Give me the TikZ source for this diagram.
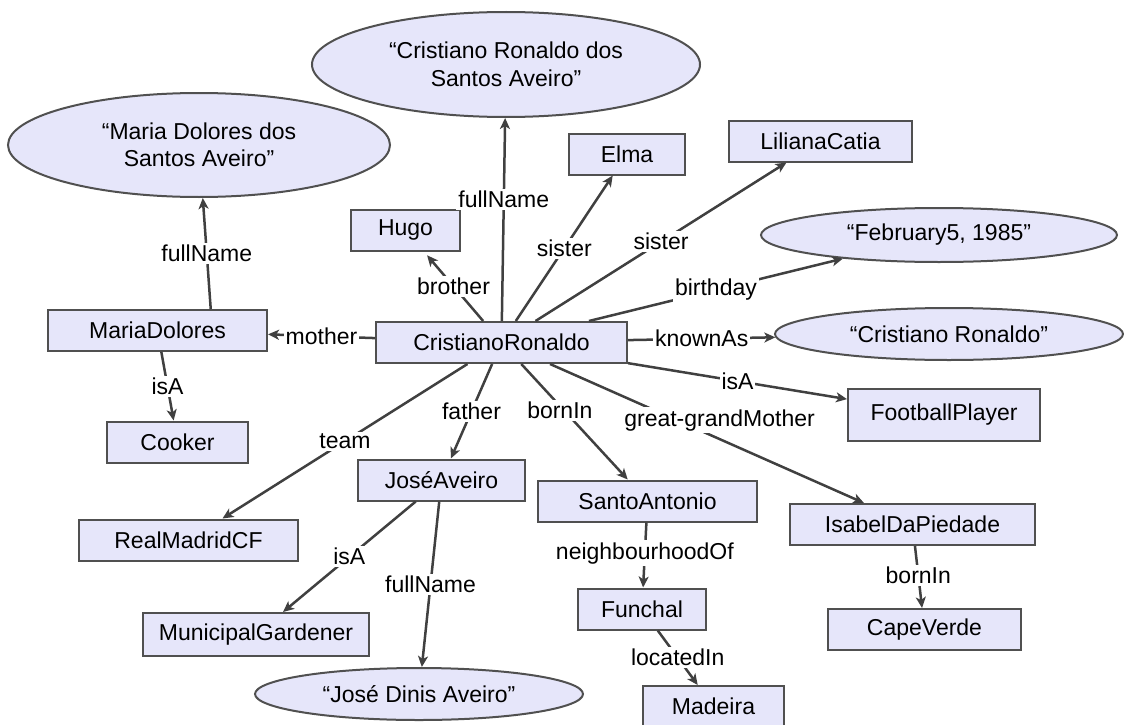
\documentclass[tikz,border=0pt]{standalone}
\usepackage{fontspec}
\setmainfont{Liberation Sans}
\usetikzlibrary{shapes.geometric,arrows.meta}
\definecolor{nodefill}{HTML}{E6E6FA}
\definecolor{edgecol}{HTML}{404040}
\definecolor{bordercol}{HTML}{505050}
\begin{document}
\begin{tikzpicture}[x=1pt,y=-1pt,
  every node/.style={font=\fontsize{23}{27.5}\selectfont},
  box/.style={draw=bordercol, line width=2pt, fill=nodefill, rectangle,
    minimum height=41, inner sep=0pt},
  lit/.style={draw=bordercol, line width=2pt, fill=nodefill, ellipse,
    inner sep=0pt, align=center},
  rel/.style={draw=edgecol, line width=2.5pt,
    -{Stealth[length=11pt,width=10pt,inset=3pt]}},
  lbl/.style={fill=white, inner sep=2pt}
]
\useasboundingbox (0,0) rectangle (1124,725);

% resources
\node[box, minimum width=251] (cr) at (501.5,342.5) {CristianoRonaldo};
\node[box, minimum width=219] (md) at (157.5,330.5) {MariaDolores};
\node[box, minimum width=141] (cooker) at (177.5,442) {Cooker};
\node[box, minimum width=109] (hugo) at (405.5,230) {Hugo};
\node[box, minimum width=116] (elma) at (627,154) {Elma};
\node[box, minimum width=183] (liliana) at (820.5,141) {LilianaCatia};
\node[box, minimum width=192, minimum height=52] (fp) at (944,415) {FootballPlayer};
\node[box, minimum width=245] (isabel) at (912.5,524.5) {IsabelDaPiedade};
\node[box, minimum width=193] (cape) at (924.5,629.5) {CapeVerde};
\node[box, minimum width=219] (sa) at (647.5,501) {SantoAntonio};
\node[box, minimum width=128] (funchal) at (642,609) {Funchal};
\node[box, minimum width=141] (madeira) at (713.5,706.5) {Madeira};
\node[box, minimum width=167] (ja) at (441.5,480) {JoséAveiro};
\node[box, minimum width=219] (rm) at (188.5,540) {RealMadridCF};
\node[box, minimum width=226, minimum height=43] (mg) at (256,634.5) {MunicipalGardener};

% literals
\node[lit, minimum width=388, minimum height=105] (crname) at (506,64.5)
  {“Cristiano Ronaldo dos\\Santos Aveiro”};
\node[lit, minimum width=382, minimum height=104] (mdname) at (199,145)
  {“Maria Dolores dos\\Santos Aveiro”};
\node[lit, minimum width=356, minimum height=54] (feb) at (939,235)
  {“February5, 1985”};
\node[lit, minimum width=348, minimum height=52] (known) at (949,334)
  {“Cristiano Ronaldo”};
\node[lit, minimum width=328, minimum height=52] (jdname) at (419,694)
  {“José Dinis Aveiro”};

% properties
\draw[rel] (cr) -- node[lbl, pos=0.6] {fullName} (crname);
\draw[rel, shorten >=5pt] (cr) -- node[lbl] {brother} (hugo);
\draw[rel] (cr) -- node[lbl] {sister} (elma);
\draw[rel] (cr) -- node[lbl] {sister} (liliana);
\draw[rel] (cr) -- node[lbl] {birthday} (feb);
\draw[rel] (cr) -- node[lbl] {knownAs} (known);
\draw[rel] (cr) -- node[lbl] {isA} (fp);
\draw[rel] (cr) -- node[lbl, pos=0.54, yshift=19pt] {great-grandMother} (isabel);
\draw[rel] (cr) -- node[lbl, pos=0.4, xshift=-4pt] {bornIn} (sa);
\draw[rel] (cr) -- node[lbl] {father} (ja);
\draw[rel] (cr) -- node[lbl] {team} (rm);
\draw[rel] (cr) -- node[lbl] {mother} (md);
\draw[rel] (md.22) -- node[lbl] {fullName} (mdname);
\draw[rel] (md) -- node[lbl] {isA} (cooker);
\draw[rel] (ja) -- node[lbl] {isA} (mg);
\draw[rel] (ja) -- node[lbl] {fullName} (jdname);
\draw[rel] (sa) -- node[lbl, pos=0.47] {neighbourhoodOf} (funchal);
\draw[rel] (funchal) -- node[lbl] {locatedIn} (madeira);
\draw[rel] (isabel) -- node[lbl, pos=0.47] {bornIn} (cape);
\end{tikzpicture}
\end{document}
